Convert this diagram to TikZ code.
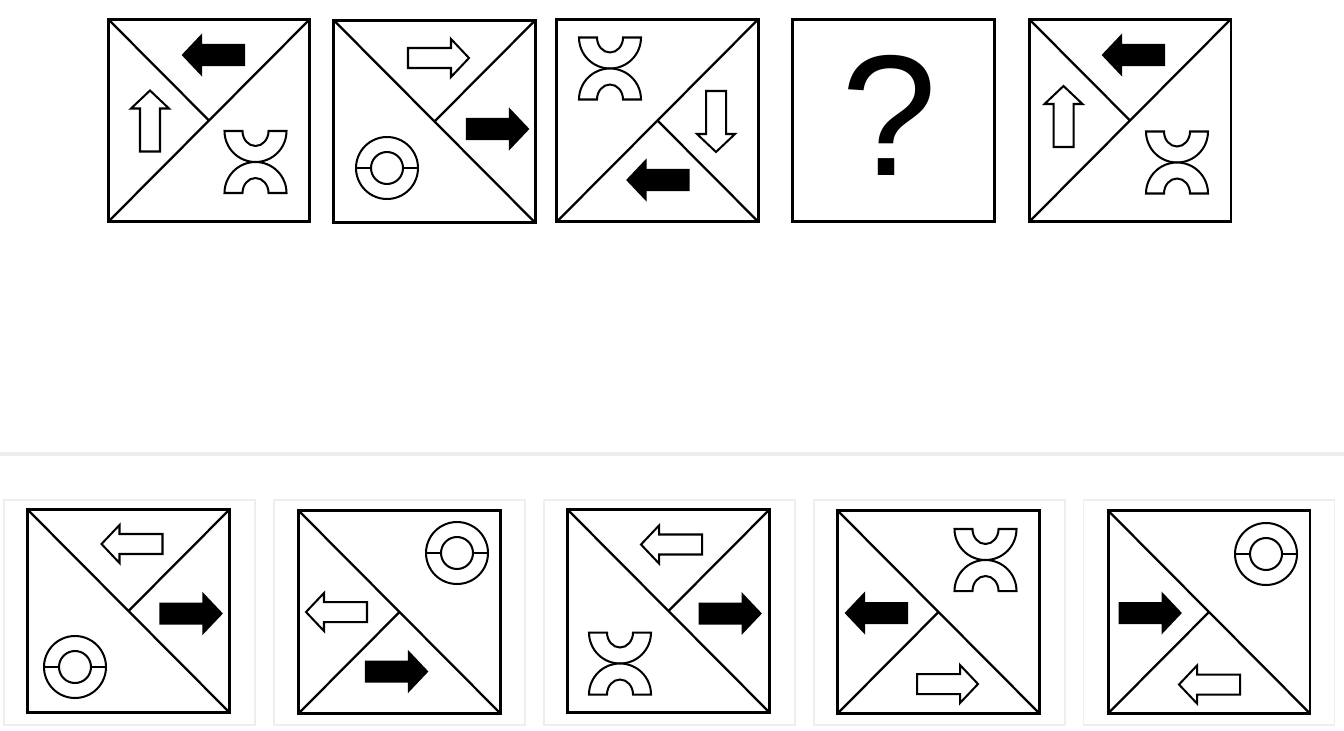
\documentclass[tikz,border=0pt]{standalone}
\usepackage{fontspec}
\newfontfamily\qfont{Liberation Sans}
\definecolor{pzgray}{RGB}{238,238,238}
\usetikzlibrary{positioning}

\begin{document}
\begin{tikzpicture}[x=0.02cm, y=-0.02cm,
  panel/.style={rectangle, draw=black, line width=1.7pt, outer sep=0pt,
                minimum width=4.04cm, minimum height=4.06cm, inner sep=0pt},
  optbox/.style={rectangle, draw=pzgray, line width=0.85pt, outer sep=0pt,
                 minimum width=5.02cm, minimum height=4.5cm, inner sep=0pt},
  diag/.style={draw=black, line width=1.3pt},
  sym/.style={draw=black, line width=1.15pt, line join=miter},
  blockarrow/.pic={
    \path[sym, fill=#1] (-30.5,-10) -- (12.5,-10) -- (12.5,-19) -- (30.5,0)
      -- (12.5,19) -- (12.5,10) -- (-30.5,10) -- cycle;},
  cusp/.pic={
    \path[sym, fill=white] (-31,-31) arc[start angle=180, end angle=0, radius=31]
      -- (13,-31) arc[start angle=0, end angle=180, x radius=13, y radius=15] -- cycle;
    \path[sym, fill=white] (-31,31) arc[start angle=180, end angle=360, radius=31]
      -- (13,31) arc[start angle=0, end angle=-180, x radius=13, y radius=15] -- cycle;},
  ring/.pic={
    \draw[sym] (0,0) circle[radius=31];
    \draw[sym] (0,0) circle[radius=16];
    \draw[sym] (-31,0) -- (-16,0) (16,0) -- (31,0);}
]
\useasboundingbox (0,0) rectangle (1344,730);

% Question row
\node[panel] (b1) at (209,120.5) {};
\node[panel] (b2) at (434.5,121.5) {};
\node[panel] (b3) at (657.5,120.5) {};
\node[panel] (b4) at (893.5,120.5) {};
\node[panel] (b5) at (1130,120.5) {};

\draw[diag] (b1.south west) -- (b1.north east) (b1.north west) -- (b1.center);
\draw[diag] (b2.north west) -- (b2.south east) (b2.north east) -- (b2.center);
\draw[diag] (b3.south west) -- (b3.north east) (b3.south east) -- (b3.center);
\draw[diag] (b5.south west) -- (b5.north east) (b5.north west) -- (b5.center);

\pic[rotate=180] at (213.5,55) {blockarrow=black};
\pic[rotate=90]  at (150,121)  {blockarrow=white};
\pic at (255.5,162) {cusp};

\pic at (438.5,58)  {blockarrow=white};
\pic at (497.5,129) {blockarrow=black};
\pic at (387,168) {ring};

\pic at (610,68.5) {cusp};
\pic[rotate=270] at (716,121.5) {blockarrow=white};
\pic[rotate=180] at (658,180)   {blockarrow=black};

\node[inner sep=0pt] (qmark) at (889,115.5) {\qfont\fontsize{98}{98}\selectfont ?};

\pic[rotate=180] at (1133.5,55)  {blockarrow=black};
\pic[rotate=90]  at (1063.5,116.5) {blockarrow=white};
\pic at (1177,162.5) {cusp};

% Separator
\coordinate (sepL) at (0,454);
\coordinate (sepR) at (1344,454);
\draw[pzgray, line width=2.3pt] (sepL) -- (sepR);

% Answer row
\node[optbox] (f1) at (129.5,612.5) {};
\node[optbox] (f2) at (399.5,612.5) {};
\node[optbox] (f3) at (669.5,612.5) {};
\node[optbox] (f4) at (939.5,612.5) {};
\node[optbox] (f5) at (1209,612.5) {};

\node[panel] (o1) at (128.5,611) {};
\node[panel] (o2) at (399.5,612) {};
\node[panel] (o3) at (668.5,611) {};
\node[panel] (o4) at (938.5,612) {};
\node[panel] (o5) at (1209,612) {};

\draw[diag] (o1.north west) -- (o1.south east) (o1.north east) -- (o1.center);
\draw[diag] (o2.north west) -- (o2.south east) (o2.south west) -- (o2.center);
\draw[diag] (o3.north west) -- (o3.south east) (o3.north east) -- (o3.center);
\draw[diag] (o4.north west) -- (o4.south east) (o4.south west) -- (o4.center);
\draw[diag] (o5.north west) -- (o5.south east) (o5.south west) -- (o5.center);

\pic[rotate=180] at (132,544) {blockarrow=white};
\pic at (191,613.5) {blockarrow=black};
\pic at (75,667) {ring};

\pic at (457,553) {ring};
\pic[rotate=180] at (336.5,612) {blockarrow=white};
\pic at (396.5,671.5) {blockarrow=black};

\pic[rotate=180] at (671.5,544.5) {blockarrow=white};
\pic at (730,613.5) {blockarrow=black};
\pic at (620,663.5) {cusp};

\pic at (985.5,560) {cusp};
\pic[rotate=180] at (876.5,613) {blockarrow=black};
\pic at (947.5,684) {blockarrow=white};

\pic at (1266,554) {ring};
\pic at (1150,613) {blockarrow=black};
\pic[rotate=180] at (1209.5,684.5) {blockarrow=white};
\end{tikzpicture}
\end{document}
